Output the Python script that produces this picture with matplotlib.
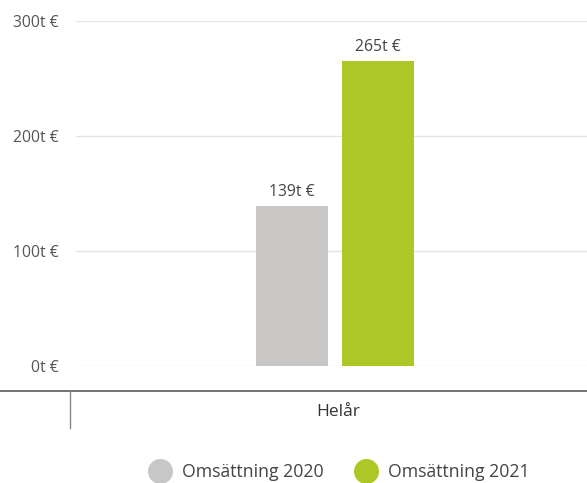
import matplotlib.pyplot as plt
from matplotlib.lines import Line2D

plt.rcParams['font.family'] = ['Open Sans', 'DejaVu Sans']

category = 'Helår'
series = ['Omsättning 2020', 'Omsättning 2021']
values = [139, 265]
labels = ['139t €', '265t €']
colors = ['#c8c7c5', '#adc826']
yticks = [0, 100, 200, 300]
ytick_labels = ['0t €', '100t €', '200t €', '300t €']

W, H = 587, 483
fig = plt.figure(figsize=(W / 100, H / 100), dpi=100)
ax = fig.add_axes([76 / W, 117 / H, 1 - 76 / W, 345 / H])

bar_w = 72
gap = 14
xs = [-(bar_w + gap) / 2, (bar_w + gap) / 2]
for x, v, lab, c in zip(xs, values, labels, colors):
    ax.bar(x + 3.5, v, width=bar_w, color=c, zorder=2)
    ax.text(x + 3.5, v + 5, lab, ha='center', va='bottom', fontsize=11.3, color='#444444')

ax.set_xlim(-255.5, 255.5)
ax.set_ylim(0, 300)
ax.set_yticks(yticks)
ax.set_yticklabels(ytick_labels, fontsize=11.3, color='#555555')
ax.tick_params(axis='y', length=0, pad=12.5)
ax.set_xticks([])
ax.grid(axis='y', color='#e3e3e3', linewidth=1, zorder=0)
for s in ax.spines.values():
    s.set_visible(False)

# category axis below the plot
fig.add_artist(Line2D([0, 1], [1 - 391 / H, 1 - 391 / H], color='#5a5a5a', linewidth=1.2))
fig.add_artist(Line2D([70 / W, 70 / W], [1 - 391 / H, 1 - 428 / H], color='#888888', linewidth=1))
fig.text(338 / W, 1 - 412 / H, category, ha='center', va='center', fontsize=12.5, color='#333333')

handles = [Line2D([], [], marker='o', linestyle='none', markersize=17, color=c) for c in colors]
fig.legend(handles, series, loc='center', bbox_to_anchor=(339.5 / W, 1 - 472 / H), ncol=2,
           frameon=False, fontsize=12.7, labelcolor='#444444', handletextpad=0.7,
           columnspacing=1.85, handlelength=1.1)

fig.savefig('out.png', dpi=100)
